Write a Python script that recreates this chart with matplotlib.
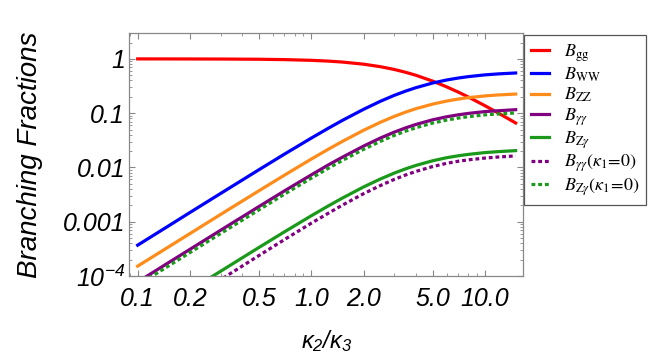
import numpy as np
import matplotlib
matplotlib.use('Agg')
import matplotlib.pyplot as plt
from matplotlib.ticker import FixedLocator, LogLocator, NullFormatter

plt.rcParams['mathtext.fontset'] = 'custom'
plt.rcParams['mathtext.rm'] = 'Liberation Sans:italic'
plt.rcParams['mathtext.it'] = 'Liberation Sans:italic'
plt.rcParams['mathtext.sf'] = 'Liberation Sans:italic'

# kappa2 / kappa3
ratio = [0.1, 0.15, 0.2, 0.3, 0.5, 0.7, 1.0, 1.25, 1.5, 2.0, 2.5, 3.0, 3.5, 4.0,
         5.0, 6.0, 7.0, 8.0, 10.0, 12.0, 15.0]

b_gg = [1.0, 0.999, 0.997, 0.994, 0.985, 0.970, 0.941, 0.911, 0.876, 0.799, 0.718,
        0.639, 0.565, 0.499, 0.389, 0.306, 0.245, 0.199, 0.137, 0.0994, 0.066]
b_ww = [3.70e-4, 8.31e-4, 1.48e-3, 3.31e-3, 9.11e-3, 0.0176, 0.0348, 0.0526, 0.0729,
        0.118, 0.166, 0.213, 0.256, 0.295, 0.360, 0.408, 0.444, 0.471, 0.508, 0.530,
        0.550]
b_zz = [1.52e-4, 3.41e-4, 6.05e-4, 1.36e-3, 3.73e-3, 7.21e-3, 0.0143, 0.0216, 0.0299,
        0.0485, 0.0681, 0.0872, 0.105, 0.121, 0.147, 0.167, 0.182, 0.193, 0.208, 0.217,
        0.225]
b_aa = [7.77e-5, 1.75e-4, 3.10e-4, 6.95e-4, 1.91e-3, 3.70e-3, 7.31e-3, 0.0111, 0.0153,
        0.0248, 0.0349, 0.0447, 0.0538, 0.0620, 0.0756, 0.0857, 0.0932, 0.0990, 0.107,
        0.111, 0.116]
b_za = [1.37e-5, 3.07e-5, 5.48e-5, 1.22e-4, 3.37e-4, 6.51e-4, 1.29e-3, 1.95e-3, 2.70e-3,
        4.38e-3, 6.14e-3, 7.87e-3, 9.47e-3, 0.0109, 0.0133, 0.0151, 0.0164, 0.0174,
        0.0188, 0.0196, 0.0204]
# kappa1 = 0 curves (dotted)
b_aa_k0 = [9.6e-6, 2.15e-5, 3.84e-5, 8.54e-5, 2.39e-4, 4.69e-4, 9.42e-4, 1.43e-3,
           2.0e-3, 3.29e-3, 4.65e-3, 6.02e-3, 7.29e-3, 8.45e-3, 0.0104, 0.0119, 0.0130,
           0.0138, 0.0149, 0.0156, 0.0163]
b_za_k0 = [6.76e-5, 1.52e-4, 2.70e-4, 6.05e-4, 1.66e-3, 3.22e-3, 6.36e-3, 9.62e-3,
           0.0133, 0.0216, 0.0303, 0.0389, 0.0468, 0.0539, 0.0658, 0.0745, 0.0811,
           0.0861, 0.0931, 0.0968, 0.101]

x_ticks = [0.1, 0.2, 0.5, 1.0, 2.0, 5.0, 10.0]
x_labels = ['0.1', '0.2', '0.5', '1.0', '2.0', '5.0', '10.0']
y_ticks = [1e-4, 1e-3, 1e-2, 0.1, 1.0]
y_labels = ['$10^{-4}$', '0.001', '0.01', '0.1', '1']

red = '#ff0000'
blue = '#0000ff'
orange = '#ff8c1a'
purple = '#800080'
green = '#1a991a'

fig = plt.figure(figsize=(6.64, 3.64), dpi=100)
ax = fig.add_axes([129.3 / 664, 1 - 276 / 364, (523.3 - 129.3) / 664, (276 - 33) / 364])

lw = 2.3
dots = (0, (1.2, 0.9))
ax.plot(ratio, b_gg, c=red, lw=lw, label=r'$B_{\rm gg}$')
ax.plot(ratio, b_ww, c=blue, lw=lw, label=r'$B_{\rm WW}$')
ax.plot(ratio, b_zz, c=orange, lw=lw, label=r'$B_{\rm ZZ}$')
ax.plot(ratio, b_aa, c=purple, lw=lw, label=r'$B_{\gamma\gamma}$')
ax.plot(ratio, b_za, c=green, lw=lw, label=r'$B_{{\rm Z}\gamma}$')
ax.plot(ratio, b_aa_k0, c=purple, lw=lw, ls=dots,
        label=r'$B_{\gamma\gamma}(\kappa_1\!=\!0)$')
ax.plot(ratio, b_za_k0, c=green, lw=lw, ls=dots,
        label=r'$B_{{\rm Z}\gamma}(\kappa_1\!=\!0)$')

ax.set_xscale('log')
ax.set_yscale('log')
ax.set_xlim(0.0895, 16.6)
ax.set_ylim(1e-4, 3.0)

ax.xaxis.set_major_locator(FixedLocator(x_ticks))
ax.set_xticklabels(x_labels)
ax.xaxis.set_minor_locator(LogLocator(subs=np.arange(2, 10)))
ax.xaxis.set_minor_formatter(NullFormatter())
ax.yaxis.set_major_locator(FixedLocator(y_ticks))
ax.set_yticklabels(y_labels)
ax.yaxis.set_minor_locator(LogLocator(subs=np.arange(2, 10)))
ax.yaxis.set_minor_formatter(NullFormatter())

for lab in ax.get_xticklabels() + ax.get_yticklabels():
    lab.set_fontfamily('Liberation Sans')
    lab.set_fontstyle('italic')
    lab.set_fontsize(18)

ax.tick_params(which='both', direction='in', top=True, right=True, color='#888888')
ax.tick_params(which='major', length=4, width=0.8)
ax.tick_params(which='minor', length=2, width=0.6)
ax.tick_params(axis='x', pad=8)
ax.tick_params(axis='y', pad=3)
for sp in ax.spines.values():
    sp.set_color('#888888')
    sp.set_linewidth(0.9)

ax.set_ylabel('Branching Fractions', fontfamily='Liberation Sans', fontstyle='italic',
              fontsize=20, labelpad=14)
ax.set_xlabel(r'$\kappa_2/\kappa_3$', fontsize=17, labelpad=12)

leg = fig.legend(loc='upper left', bbox_to_anchor=(524 / 664, 1 - 35 / 364),
                 bbox_transform=fig.transFigure, borderaxespad=0,
                 prop={'size': 13, 'math_fontfamily': 'stix'},
                 fancybox=False, framealpha=1, edgecolor='#555555',
                 handlelength=1.0, handletextpad=0.8, labelspacing=0.1,
                 borderpad=0.4)
leg.get_frame().set_linewidth(0.9)

fig.savefig('out.png', dpi=100)
